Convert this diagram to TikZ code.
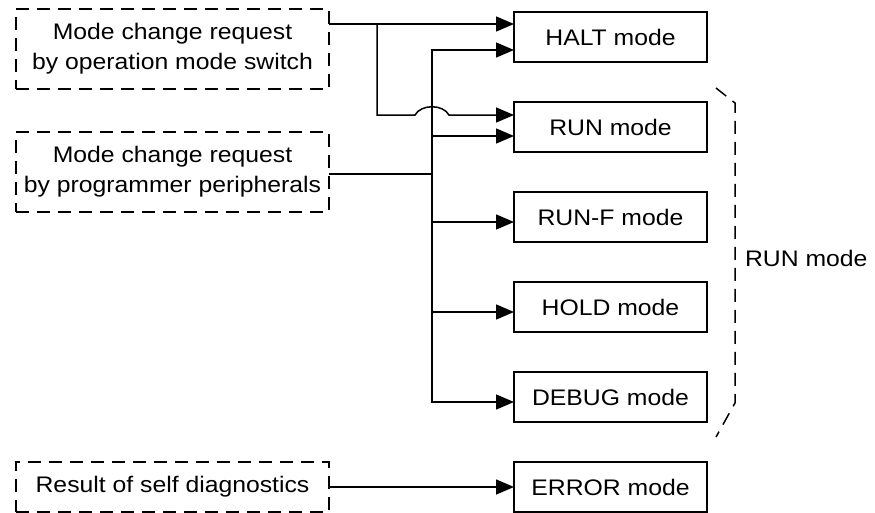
\documentclass[tikz,border=0pt]{standalone}
\usepackage{fontspec}
\setmainfont{Liberation Sans}[FakeStretch=1.1]
\usetikzlibrary{positioning,arrows.meta}

\begin{document}
\begin{tikzpicture}[x=1pt,y=-1pt,node distance=40pt,line width=1.5pt,>={Triangle[length=18pt,width=15pt]},
  every node/.style={font=\fontsize{22.5}{30}\selectfont},
  modebox/.style={draw,line width=1.3pt,minimum width=193pt,minimum height=50pt,inner sep=0pt,outer sep=0pt},
  reqbox/.style={draw,dash pattern=on 13pt off 8pt,minimum width=313pt,minimum height=80pt,align=center,inner sep=0pt,outer sep=0pt}]
  \useasboundingbox (0,0) rectangle (875,512);

  % modes
  \node (halt) [modebox] at (610.5,37) {HALT mode};
  \node (run) [modebox, below=of halt] {RUN mode};
  \node (runf) [modebox, below=of run] {RUN-F mode};
  \node (hold) [modebox, below=of runf] {HOLD mode};
  \node (debug) [modebox, below=of hold] {DEBUG mode};
  \node (err) [modebox, below=of debug] {ERROR mode};

  % requests
  \node (reqsw) [reqbox] at (172.5,49) {Mode change request\\by operation mode switch};
  \node (reqpp) [reqbox] at (172.5,172) {Mode change request\\by programmer peripherals};
  \node (reqdiag) [reqbox, minimum height=50pt] at (172.5,487) {Result of self diagnostics};

  \coordinate (split) at (377,24);
  \coordinate (join) at (432,174);
  \coordinate (hump) at (432,115);

  \draw[->] ([yshift=25pt]reqsw.east) -- ([yshift=13pt]halt.west);
  \draw[->] (split) |- ([xshift=-17pt]hump) .. controls +(6,-11) and +(-6,-11) .. ([xshift=17pt]hump) -- ([yshift=12pt]run.west);

  \draw ([yshift=-2pt]reqpp.east) -- (join);
  \draw[->] (join) |- ([yshift=-13pt]halt.west);
  \draw[->] (join) |- ([yshift=-9pt]run.west);
  \draw[->] (join) |- ([yshift=-5pt]runf.west);
  \draw[->] (join) |- ([yshift=-5pt]hold.west);
  \draw[->] (join) |- ([yshift=-5pt]debug.west);

  \draw[->] (reqdiag.east) -- (err.west);

  % run mode group
  \draw[dash pattern=on 13pt off 8pt] (716,88) -- (735,103) -- (735,403) -- (716,437);
  \node (runlbl) [anchor=west] at (741,258) {RUN mode};
\end{tikzpicture}
\end{document}
